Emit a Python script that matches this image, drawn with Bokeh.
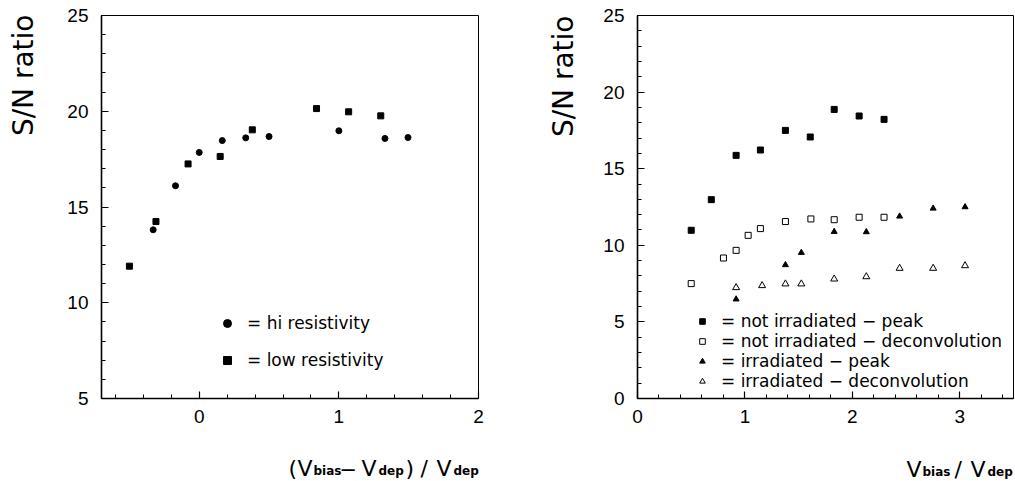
import math
from bokeh.plotting import figure
from bokeh.layouts import row, column
from bokeh.models import Range1d, SingleIntervalTicker, Label, Legend, LegendItem, Title
from bokeh.embed import file_html
from bokeh.resources import INLINE

# ---------------- data: left panel ----------------
hi_x = [-0.33, -0.17, 0.0, 0.165, 0.333, 0.50, 1.0, 1.33, 1.495]
hi_y = [13.81, 16.11, 17.85, 18.47, 18.61, 18.68, 18.98, 18.58, 18.63]
low_x = [-0.50, -0.31, -0.08, 0.15, 0.38, 0.84, 1.07, 1.30]
low_y = [11.91, 14.24, 17.25, 17.64, 19.03, 20.14, 19.97, 19.76]

# ---------------- data: right panel ----------------
nip_x = [0.50, 0.687, 0.918, 1.144, 1.377, 1.608, 1.831, 2.063, 2.295]
nip_y = [10.98, 12.98, 15.87, 16.22, 17.50, 17.07, 18.87, 18.44, 18.22]
nid_x = [0.50, 0.80, 0.918, 1.03, 1.144, 1.377, 1.614, 1.831, 2.063, 2.295]
nid_y = [7.50, 9.17, 9.67, 10.65, 11.09, 11.55, 11.72, 11.67, 11.83, 11.83]
irp_x = [0.918, 1.377, 1.525, 1.831, 2.13, 2.44, 2.752, 3.049]
irp_y = [6.48, 8.72, 9.52, 10.89, 10.87, 11.89, 12.41, 12.50]
ird_x = [0.918, 1.16, 1.377, 1.525, 1.831, 2.13, 2.44, 2.752, 3.049]
ird_y = [7.24, 7.37, 7.48, 7.48, 7.80, 7.95, 8.50, 8.50, 8.67]

left_labels = ["= hi resistivity", "= low resistivity"]
right_labels = ["= not irradiated \u2212 peak", "= not irradiated \u2212 deconvolution",
                "= irradiated \u2212 peak", "= irradiated \u2212 deconvolution"]
ylab = "S/N ratio"

FONT = "DejaVu Sans"
TICKFONT = "Liberation Sans"
TOP_H = 440     # height of the row holding the plots
BOT_H = 41      # height of the row holding the x-axis titles


def style(p):
    p.grid.visible = False
    p.outline_line_color = "black"
    p.outline_line_width = 1
    p.background_fill_color = "white"
    p.border_fill_color = "white"
    for ax in (p.xaxis[0], p.yaxis[0]):
        ax.axis_line_width = 1.6
        ax.axis_line_color = "black"
        ax.major_tick_in = 7
        ax.major_tick_out = 0
        ax.minor_tick_in = 4
        ax.minor_tick_out = 0
        ax.major_tick_line_width = 1.2
        ax.major_tick_line_color = "black"
        ax.minor_tick_line_color = "black"
        ax.major_label_text_font = TICKFONT
        ax.major_label_text_font_size = "19px"
        ax.major_label_text_color = "black"
    p.yaxis.major_label_standoff = 13
    p.xaxis.major_label_standoff = 11


def text_panel(w, h):
    f = figure(width=w, height=h, x_range=Range1d(0, 1), y_range=Range1d(0, 1),
               output_backend="svg", toolbar_location=None,
               x_axis_type=None, y_axis_type=None,
               min_border=0, min_border_left=0, min_border_right=0,
               min_border_top=0, min_border_bottom=0)
    f.grid.visible = False
    f.outline_line_color = None
    f.background_fill_color = "white"
    f.border_fill_color = "white"
    return f


def put(f, x0, y0, h, cx, cy, text, size, bold=False, align="left",
        baseline="alphabetic", angle=0.0, font=FONT):
    # cx, cy: page pixel position; (x0, y0): page position of panel's top-left
    f.add_layout(Label(x=cx - x0, y=h - (cy - y0), x_units="screen", y_units="screen",
                       text=text, text_font=font, text_font_size=f"{size}px",
                       text_font_style="bold" if bold else "normal",
                       text_align=align, text_baseline=baseline, angle=angle,
                       text_color="black"))


# ---------------- y-title panel for the left plot ----------------
# (anchor compensated for the observed offset of rotated labels)
yl1 = text_panel(45, TOP_H)
put(yl1, 0, 0, TOP_H, 23, 56, ylab, 28, align="right", baseline="alphabetic",
    angle=math.pi / 2)

# ---------------- left figure ----------------
p1 = figure(width=475, height=TOP_H, x_range=Range1d(-0.7, 2), y_range=Range1d(5, 25),
            output_backend="svg", toolbar_location=None,
            min_border_left=56, min_border_right=42, min_border_top=15, min_border_bottom=42)
style(p1)
p1.xaxis.ticker = SingleIntervalTicker(interval=1, num_minor_ticks=5)
p1.yaxis.ticker = SingleIntervalTicker(interval=5, num_minor_ticks=5)

r_hi = p1.scatter(hi_x, hi_y, marker="circle", size=6, color="black")
r_low = p1.scatter(low_x, low_y, marker="square", size=6, color="black")

leg1 = Legend(items=[LegendItem(label=left_labels[0], renderers=[r_hi]),
                     LegendItem(label=left_labels[1], renderers=[r_low])],
              location=(116, 28), orientation="vertical", border_line_color=None,
              background_fill_alpha=0, padding=0, margin=0, spacing=17,
              glyph_width=20, glyph_height=20, label_height=20, label_standoff=10,
              label_text_font=FONT, label_text_font_size="17px", label_text_color="black")
p1.add_layout(leg1)

# ---------------- right figure ----------------
p2 = figure(width=495, height=TOP_H, x_range=Range1d(0, 3.5), y_range=Range1d(0, 25),
            output_backend="svg", toolbar_location=None,
            min_border_left=117, min_border_right=2, min_border_top=15, min_border_bottom=42)
style(p2)
p2.add_layout(Title(text=ylab, align="right", text_font=FONT, text_font_size="28px",
                    text_font_style="normal", text_color="black", standoff=42), "left")
p2.xaxis.ticker = SingleIntervalTicker(interval=1, num_minor_ticks=5)
p2.yaxis.ticker = SingleIntervalTicker(interval=5, num_minor_ticks=5)

r_nip = p2.scatter(nip_x, nip_y, marker="square", size=6, color="black")
r_nid = p2.scatter(nid_x, nid_y, marker="square", size=6, line_color="black",
                   fill_color="white", line_width=1)
r_irp = p2.scatter(irp_x, irp_y, marker="triangle", size=6, color="black")
r_ird = p2.scatter(ird_x, ird_y, marker="triangle", size=7, line_color="black",
                   fill_color="white", line_width=1)

leg2 = Legend(items=[LegendItem(label=right_labels[0], renderers=[r_nip]),
                     LegendItem(label=right_labels[1], renderers=[r_nid]),
                     LegendItem(label=right_labels[2], renderers=[r_irp]),
                     LegendItem(label=right_labels[3], renderers=[r_ird])],
              location=(58, 7), orientation="vertical", border_line_color=None,
              background_fill_alpha=0, padding=0, margin=0, spacing=0,
              glyph_width=14, glyph_height=18, label_height=18, label_standoff=12,
              label_text_font=FONT, label_text_font_size="17px", label_text_color="black")
p2.add_layout(leg2)

# ---------------- x-title panels ----------------
xl1 = text_panel(520, BOT_H)
Y0 = TOP_H
put(xl1, 0, Y0, BOT_H, 288, 468, "(", 22)
put(xl1, 0, Y0, BOT_H, 297, 468, "V", 22)
put(xl1, 0, Y0, BOT_H, 313, 470, "bias", 12, bold=True)
put(xl1, 0, Y0, BOT_H, 339, 468, "\u2212", 21)
put(xl1, 0, Y0, BOT_H, 361, 468, "V", 22)
put(xl1, 0, Y0, BOT_H, 378, 470, "dep", 12, bold=True)
put(xl1, 0, Y0, BOT_H, 405, 468, ")", 22)
put(xl1, 0, Y0, BOT_H, 420, 468, "/", 22)
put(xl1, 0, Y0, BOT_H, 436, 468, "V", 22)
put(xl1, 0, Y0, BOT_H, 453, 470, "dep", 12, bold=True)

xl2 = text_panel(495, BOT_H)
put(xl2, 520, Y0, BOT_H, 906, 469, "V", 22)
put(xl2, 520, Y0, BOT_H, 922, 471, "bias", 12, bold=True)
put(xl2, 520, Y0, BOT_H, 954, 469, "/", 22)
put(xl2, 520, Y0, BOT_H, 970, 469, "V", 22)
put(xl2, 520, Y0, BOT_H, 987, 471, "dep", 12, bold=True)

layout = column(row(yl1, p1, p2), row(xl1, xl2))
open("out.html", "w").write(file_html(layout, INLINE))
